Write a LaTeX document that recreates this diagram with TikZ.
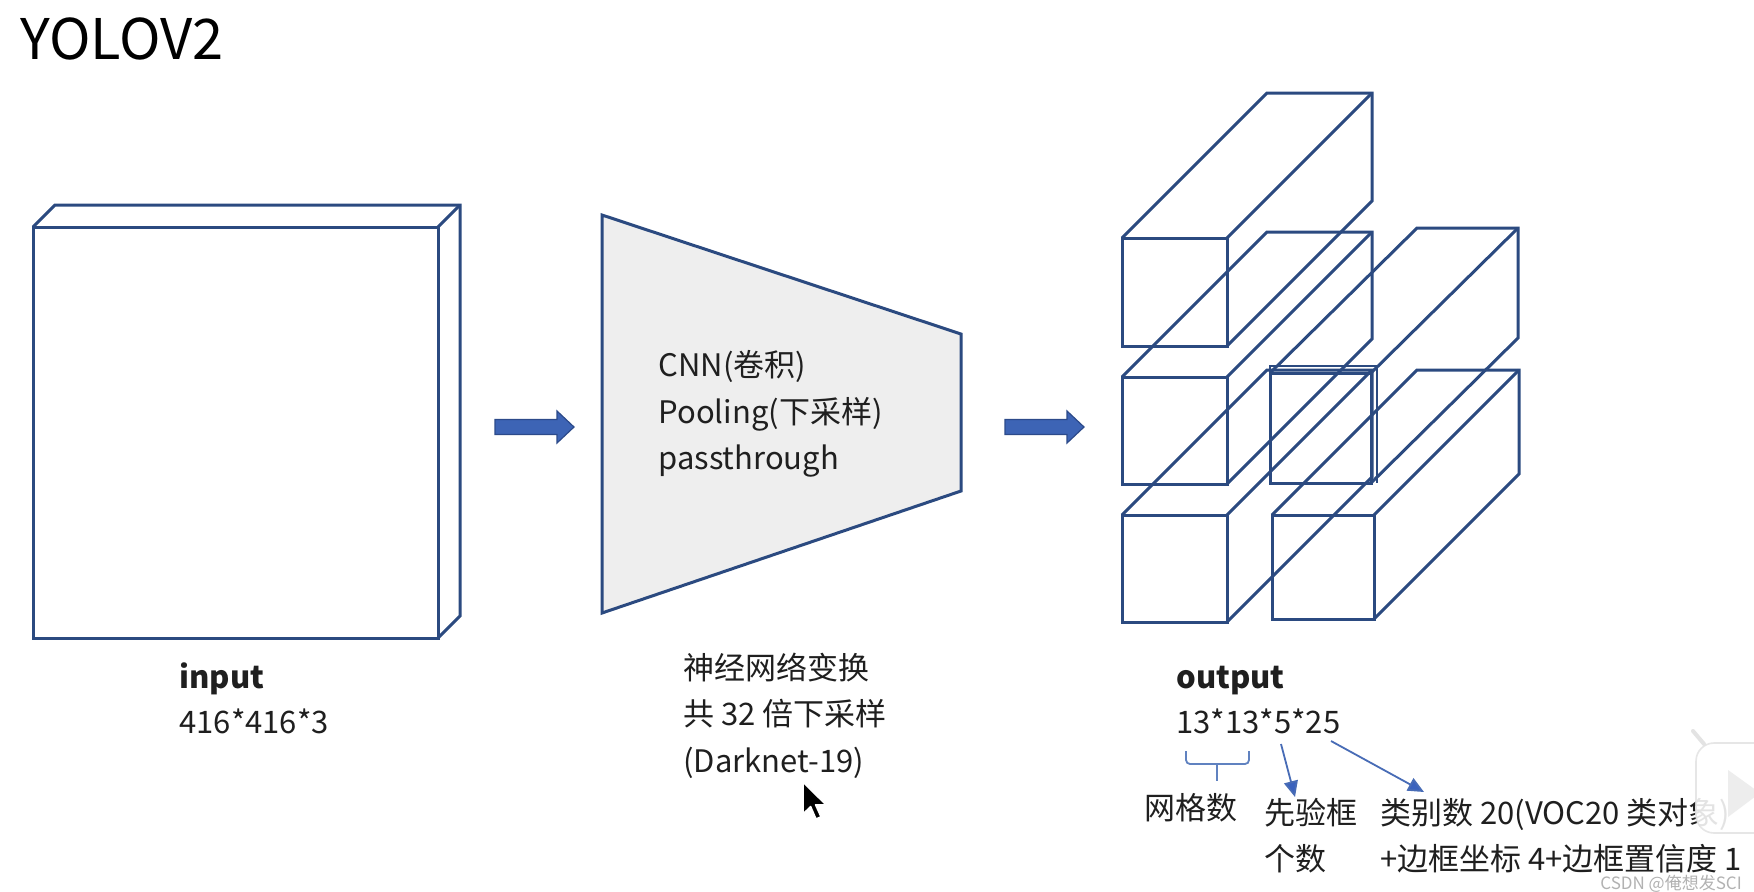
\documentclass[tikz,border=0pt]{standalone}
\usepackage{fontspec}
\setmainfont{Noto Sans CJK SC}
\usetikzlibrary{arrows.meta}
\definecolor{boxblue}{RGB}{43,74,128}
\definecolor{arrowblue}{RGB}{61,100,181}
\definecolor{arrowedge}{RGB}{44,74,138}
\definecolor{thinblue}{RGB}{72,108,182}
\definecolor{headblue}{RGB}{58,98,190}
\definecolor{bracecol}{RGB}{96,130,192}
\definecolor{trapfill}{RGB}{238,238,238}
\newcommand\mycuboid[6]{%
  \draw[boxline] (#1,#2) rectangle ++(#3,#4);
  \draw[boxline] (#1,#2) -- ++(#5,#6) -- ++(#3,0) -- ++(0,#4) -- ++({-(#5)},{-(#6)});
  \draw[boxline] ({#1+#3},#2) -- ++(#5,#6);
}
\tikzset{
  boxline/.style={draw=boxblue, line width=1.5pt, line join=miter},
  txt/.style={anchor=base west, inner sep=0pt, font=\fontsize{15.5}{20}\selectfont, text=black!88},
  bold/.style={txt, font=\fontsize{15.5}{20}\selectfont\bfseries},
  blockarrow/.pic={\filldraw[fill=arrowblue, draw=arrowedge, line width=0.6pt, line join=miter]
     (0,-7.5) -- (62,-7.5) -- (62,-16) -- (79,0) -- (62,16) -- (62,7.5) -- (0,7.5) -- cycle;},
  smallarrow/.style={draw=thinblue, line width=0.9pt, -{Triangle[length=8pt,width=7pt,fill=headblue]}},
}
\begin{document}
\begin{tikzpicture}[x=0.5pt,y=-0.5pt]
\useasboundingbox[fill=white] (0,0) rectangle (1754,891);

% title
\node[anchor=base west, inner sep=0pt, font=\fontsize{28}{30}\selectfont] (title) at (20,59) {YOLOV2};

% input slab
\mycuboid{33}{227}{405}{411}{22}{-22}

% first block arrow
\coordinate (a1) at (495,427);
\pic at (a1) {blockarrow};

% trapezoid (network)
\filldraw[fill=trapfill, draw=boxblue, line width=1.5pt, line join=miter]
  (602,215) -- (961,334) -- (961,491) -- (602,613) -- cycle;
\node[txt] (cnn)  at (658,376) {CNN(卷积)};
\node[txt] (pool) at (658,423) {Pooling(下采样)};
\node[txt] (pass) at (658,469) {passthrough};

% second block arrow
\coordinate (a2) at (1005,427);
\pic at (a2) {blockarrow};

% output cuboids
\mycuboid{1122}{238}{105}{108}{145}{-145}
\mycuboid{1122}{377}{105}{107}{145}{-145}
\mycuboid{1122}{515}{105}{107}{145}{-145}
\mycuboid{1270}{373}{101}{110}{147}{-145}
\draw[boxline, line width=1.2pt] (1270,483) -- (1270,366) -- (1377,366) -- (1377,483);
\mycuboid{1272}{515}{102}{104}{145}{-145}

% labels under the pictures
\node[bold] (inp)    at (179,688) {input};
\node[txt]  (inpdim) at (179,733) {416*416*3};
\node[txt]  (net1)   at (683,679) {神经网络变换};
\node[txt]  (net2)   at (683,725) {共 32 倍下采样};
\node[txt]  (net3)   at (683,772) {(Darknet-19)};
\node[bold] (out)    at (1176,688) {output};
\node[txt]  (outdim) at (1176,733) {13*13*5*25};

% brace under 13*13
\coordinate (bl) at (1186,751);
\coordinate (br) at (1249,751);
\coordinate (bs) at (1217,764);
\coordinate (be) at (1217,781);
\draw[draw=bracecol, line width=0.9pt, rounded corners=2pt] (bl) -- (1186,764) -- (1249,764) -- (br);
\draw[draw=bracecol, line width=0.9pt] (bs) -- (be);

\node[txt] (grid)   at (1144,819) {网格数};
\node[txt] (prior1) at (1264,824) {先验框};
\node[txt] (prior2) at (1264,870) {个数};
\node[txt] (cls1)   at (1380,824) {类别数 20(VOC20 类对象)};
\node[txt] (cls2)   at (1380,870) {+边框坐标 4+边框置信度 1};

\coordinate (s1) at (1281,744);
\coordinate (e1) at (1295,797);
\coordinate (s2) at (1331,741);
\coordinate (e2) at (1424,792);
\draw[smallarrow] (s1) -- (e1);
\draw[smallarrow] (s2) -- (e2);

% mouse cursor
\filldraw[fill=black, draw=white, line width=0.8pt, line join=round, shift={(803,782)}, x=1pt, y=-1pt]
  (0,0) -- (0,16) -- (3.8,12.3) -- (6.5,18.5) -- (9,17.4) -- (6.3,11.4) -- (11.5,11.4) -- cycle;

% video overlay icon (right edge)
\filldraw[fill=white, draw=gray!22, line width=0.8pt, rounded corners=9pt, opacity=0.88]
  (1696,743) rectangle (1790,833);
\draw[gray!22, line width=2pt, line cap=round] (1704,744) -- (1693,731);
\fill[gray!14] (1728,770) -- (1728,817) -- (1760,793) -- cycle;

% watermark
\node[anchor=base west, inner sep=0pt, font=\fontsize{8.5}{10}\selectfont, text=gray!60] (wm) at (1600,889) {CSDN @俺想发SCI};
\end{tikzpicture}
\end{document}
